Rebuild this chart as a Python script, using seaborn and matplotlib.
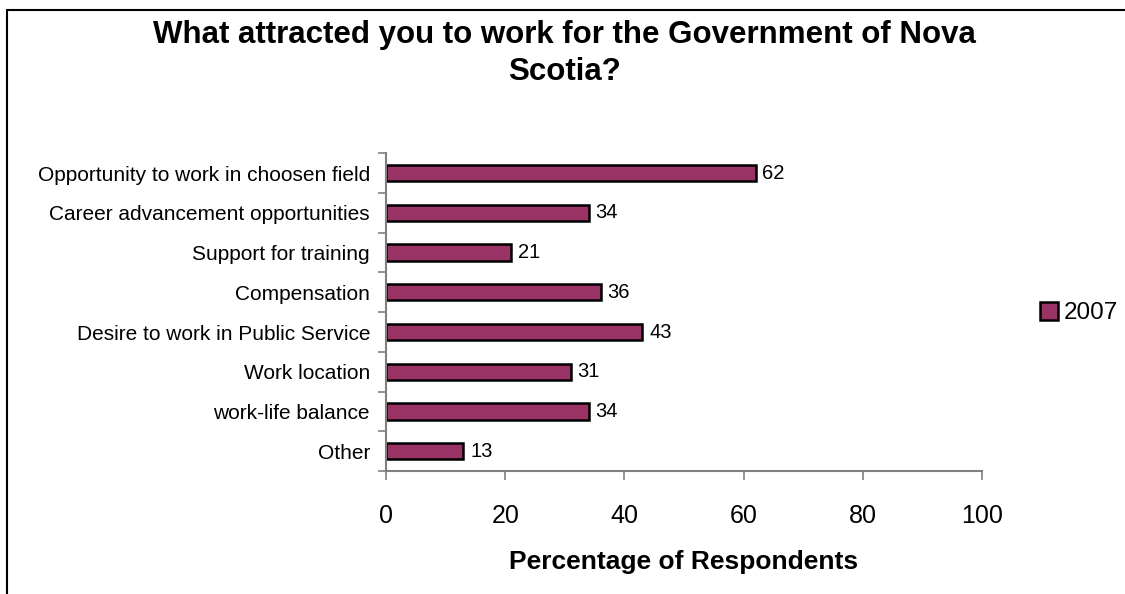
import numpy as np
import pandas as pd
import matplotlib
matplotlib.use("Agg")
import matplotlib.pyplot as plt
import seaborn as sns
from matplotlib.ticker import FixedLocator

# 数据
categories = [
    "Opportunity to work in choosen field",
    "Career advancement opportunities",
    "Support for training",
    "Compensation",
    "Desire to work in Public Service",
    "Work location",
    "work-life balance",
    "Other",
]
values_2007 = [62, 34, 21, 36, 43, 31, 34, 13]
series_name = "2007"

sns.set_style("white")
plt.rcParams['font.family'] = ['Liberation Sans', 'DejaVu Sans']
plt.rcParams['text.color'] = 'black'
plt.rcParams['xtick.labelcolor'] = 'black'
plt.rcParams['ytick.labelcolor'] = 'black'
plt.rcParams['axes.labelcolor'] = 'black'

df = pd.DataFrame({"category": categories, "value": values_2007,
                   "year": [series_name] * len(categories)})

fig = plt.figure(figsize=(11.25, 5.94), dpi=100)
ax = fig.add_axes([0.3431, 0.207, 0.5298, 0.535])

sns.barplot(data=df, x="value", y="category", hue="year", orient="h",
            palette=["#993366"], saturation=1, edgecolor="black",
            linewidth=1.8, width=0.41, ax=ax, legend=True)

# 数值标签
for cont in ax.containers:
    ax.bar_label(cont, padding=5, fontsize=14.5)

ax.set_xlim(0, 100)
ax.set_xticks([0, 20, 40, 60, 80, 100])
ax.set_ylim(len(categories) - 0.5, -0.5)
ax.tick_params(axis="x", labelsize=18, length=6.5, width=1.2, color="#808080",
               direction="out", pad=17, bottom=True)
ax.tick_params(axis="y", which="major", length=0, labelsize=15, pad=11.5)
ax.yaxis.set_minor_locator(FixedLocator(np.arange(-0.5, len(categories), 1.0)))
ax.tick_params(axis="y", which="minor", length=6, width=1.2, color="#808080",
               left=True)

ax.set_xlabel("Percentage of Respondents", fontsize=19, fontweight="bold",
              labelpad=16)
ax.set_ylabel("")

for side in ["top", "right"]:
    ax.spines[side].set_visible(False)
for side in ["left", "bottom"]:
    ax.spines[side].set_color("#808080")
    ax.spines[side].set_linewidth(1.5)

# 图例
handles, labels = ax.get_legend_handles_labels()
ax.legend(handles, labels, loc="center left", bbox_to_anchor=(0.9158, 0.473),
          bbox_transform=fig.transFigure, frameon=False, fontsize=17.5,
          handlelength=0.74, handleheight=0.74, handletextpad=0.25,
          borderaxespad=0)

fig.suptitle("What attracted you to work for the Government of Nova\nScotia?",
             fontsize=22.5, fontweight="bold", x=0.502, y=0.966, va="top",
             linespacing=1.3)

# 外框
fig.add_artist(plt.Line2D([0.0065, 0.0065], [0, 0.983], color="black", lw=1.5,
                          transform=fig.transFigure))
fig.add_artist(plt.Line2D([0.0065, 1.0], [0.983, 0.983], color="black", lw=1.5,
                          transform=fig.transFigure))

plt.savefig("out.png", dpi=100)
plt.close()
